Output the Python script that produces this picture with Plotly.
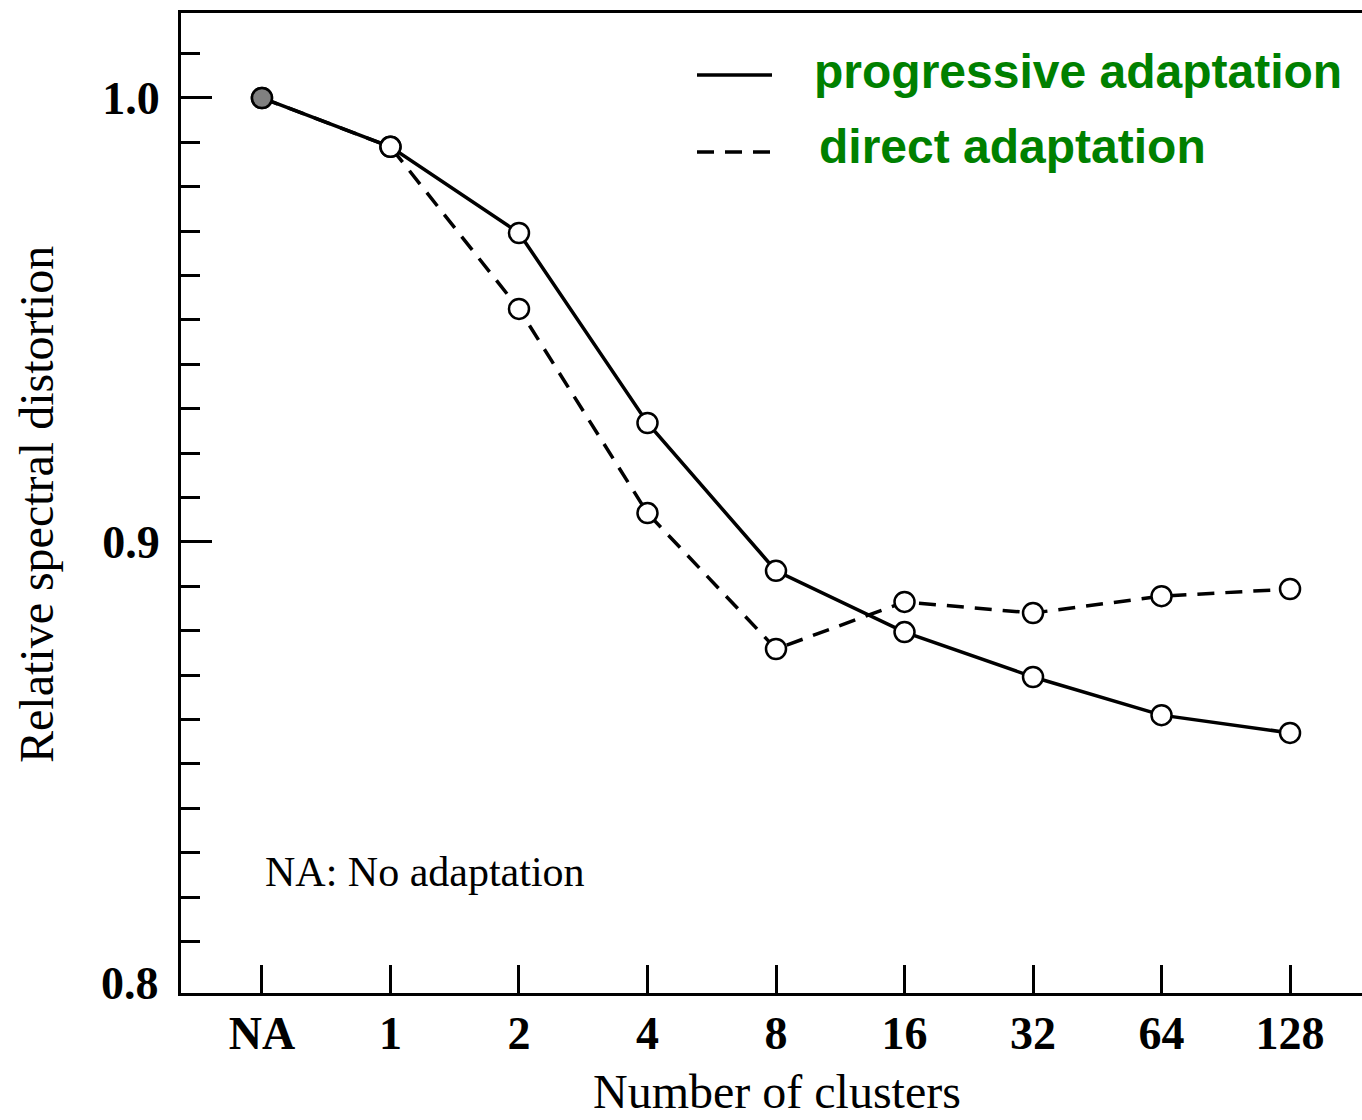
import plotly.graph_objects as go

# ---- data ----
categories = ["NA", "1", "2", "4", "8", "16", "32", "64", "128"]
progressive = [1.000, 0.989, 0.9696, 0.9268, 0.8935, 0.8797, 0.8696, 0.8610, 0.8570]
direct = [1.000, 0.989, 0.9525, 0.9065, 0.8759, 0.8865, 0.8840, 0.8878, 0.8894]
series_names = ["progressive adaptation", "direct adaptation"]
y_tick_vals = [0.9, 1.0]
y_tick_text = ["0.9", "1.0"]
y_bottom_label = "0.8"
y_minor_vals = [0.81, 0.82, 0.83, 0.84, 0.85, 0.86, 0.87, 0.88, 0.89,
                0.91, 0.92, 0.93, 0.94, 0.95, 0.96, 0.97, 0.98, 0.99, 1.01]

marker_fill = ["#808080"] + ["white"] * (len(categories) - 1)

fig = go.Figure()

fig.add_trace(go.Scatter(
    x=categories, y=direct, mode="lines+markers", name=series_names[1],
    line=dict(color="black", width=3.5, dash="17px,11px"),
    marker=dict(size=20, color=marker_fill, line=dict(color="black", width=2.5)),
    showlegend=False,
))
fig.add_trace(go.Scatter(
    x=categories, y=progressive, mode="lines+markers", name=series_names[0],
    line=dict(color="black", width=3.5),
    marker=dict(size=20, color=marker_fill, line=dict(color="black", width=2.5)),
    showlegend=False,
))

L, T, B, R = 181, 13, 127, 0
W, H = 1362, 1120
pw = W - L - R
ph = H - T - B

def px_x(x):
    return (x - L) / pw

def px_y(y):
    return (H - B - y) / ph

# legend samples (decorations)
fig.add_shape(type="line", xref="paper", yref="paper",
              x0=px_x(697), x1=px_x(772), y0=px_y(75), y1=px_y(75),
              line=dict(color="black", width=3.5))
fig.add_shape(type="line", xref="paper", yref="paper",
              x0=px_x(697), x1=px_x(770), y0=px_y(152), y1=px_y(152),
              line=dict(color="black", width=3.5, dash="17px,11px"))

legend_font = dict(family="Liberation Sans", size=48, color="#008000", weight="bold")
fig.add_annotation(text=series_names[0], xref="paper", yref="paper",
                   x=px_x(812), y=px_y(72), xanchor="left", yanchor="middle",
                   showarrow=False, font=legend_font)
fig.add_annotation(text=series_names[1], xref="paper", yref="paper",
                   x=px_x(817), y=px_y(147), xanchor="left", yanchor="middle",
                   showarrow=False, font=legend_font)

fig.add_annotation(text="NA: No adaptation", xref="paper", yref="paper",
                   x=px_x(263), y=px_y(872), xanchor="left", yanchor="middle",
                   showarrow=False,
                   font=dict(family="Liberation Serif", size=42, color="black"))

tick_font = dict(family="Liberation Serif", size=46, color="black", weight="bold")

# bottom y label (no major tick drawn at the axis corner)
fig.add_annotation(text=y_bottom_label, xref="paper", yref="y",
                   x=0, y=0.8, xanchor="right", yanchor="middle",
                   xshift=-20, yshift=2, showarrow=False, font=tick_font)

# axis titles
fig.add_annotation(text="Relative spectral distortion", xref="paper", yref="paper",
                   x=px_x(36), y=px_y(505), xanchor="center", yanchor="middle",
                   textangle=-90, showarrow=False,
                   font=dict(family="Liberation Serif", size=48, color="black"))
fig.add_annotation(text="Number of clusters", xref="paper", yref="paper",
                   x=px_x(777), y=px_y(1091), xanchor="center", yanchor="middle",
                   showarrow=False,
                   font=dict(family="Liberation Serif", size=48, color="black"))

fig.update_layout(
    width=W, height=H,
    margin=dict(l=L, r=R, t=T, b=B),
    paper_bgcolor="white", plot_bgcolor="white",
    xaxis=dict(
        type="category", range=[-0.63, 8.56],
        showline=True, linecolor="black", linewidth=3, mirror=True,
        ticks="inside", ticklen=28, tickwidth=3, tickcolor="black",
        showgrid=False, zeroline=False,
        tickfont=tick_font, ticklabelstandoff=-2,
    ),
    yaxis=dict(
        range=[0.79842, 1.01914],
        showline=True, linecolor="black", linewidth=3, mirror=False,
        tickmode="array", tickvals=y_tick_vals, ticktext=y_tick_text,
        ticks="inside", ticklen=31, tickwidth=3, tickcolor="black",
        showgrid=False, zeroline=False,
        tickfont=tick_font, ticklabelstandoff=9,
        minor=dict(tickmode="array", tickvals=y_minor_vals, ticks="inside",
                   ticklen=19, tickwidth=3, tickcolor="black", showgrid=False),
    ),
)

fig.write_html("out.html")
